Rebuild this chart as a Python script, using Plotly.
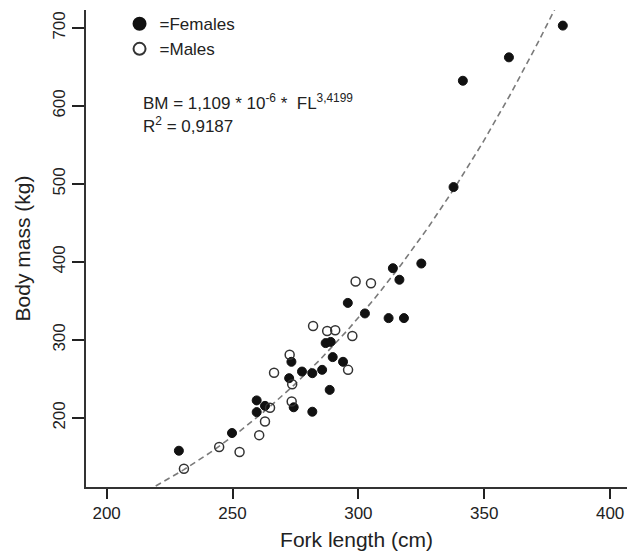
import numpy as np
import plotly.graph_objects as go

# Data
fem_fl = [228.7, 249.8, 259.6, 259.6, 262.9, 273.4, 277.6, 281.7, 285.6, 272.5,
          288.6, 274.3, 281.7, 289.8, 293.9, 287.0, 289.0, 295.8, 302.6, 312.0,
          318.1, 313.7, 316.3, 325.0, 337.8, 341.5, 359.8, 381.2]
fem_bm = [158, 180.7, 207.5, 222.5, 215.5, 272, 259.5, 257.4, 261.7, 251,
          236, 213.7, 208, 278, 272, 296, 297.5, 347.5, 334, 328,
          328, 392, 377.2, 398, 496, 632.3, 662.3, 703]
male_fl = [230.7, 244.7, 252.8, 260.6, 262.9, 264.9, 273.5, 273.7, 266.5, 272.7,
           282.0, 287.6, 290.8, 297.6, 295.9, 298.9, 305.0]
male_bm = [134.8, 162.7, 156.3, 178, 195.5, 213, 221, 243.3, 258, 281,
           318, 311.5, 312.5, 305, 261.7, 375, 372.6]

# Fitted power curve BM = a * FL^b (from the chart's equation)
fit_a = 1.109e-6
fit_b = 3.4199
fit_fl = np.linspace(219.5, 378.5, 200)
fit_bm = fit_a * fit_fl ** fit_b

x_ticks = [200, 250, 300, 350, 400]
y_ticks = [200, 300, 400, 500, 600, 700]

FONT = "Liberation Sans, Arial, Helvetica, sans-serif"
INK = "#222222"

fig = go.Figure()
fig.add_trace(go.Scatter(x=fit_fl, y=fit_bm, mode="lines", showlegend=False,
                         line=dict(color="#7a7a7a", width=1.6, dash="6px,4px"),
                         hoverinfo="skip"))
fig.add_trace(go.Scatter(x=fem_fl, y=fem_bm, mode="markers", name="=Females",
                         marker=dict(symbol="circle", size=9, color="#111111",
                                     line=dict(color="#111111", width=1))))
fig.add_trace(go.Scatter(x=male_fl, y=male_bm, mode="markers", name="=Males",
                         marker=dict(symbol="circle-open", size=9, color="#333333",
                                     line=dict(width=1.5))))

fig.update_layout(
    width=629, height=556,
    margin=dict(l=86, r=2, t=10, b=69),
    paper_bgcolor="white", plot_bgcolor="white",
    font=dict(family=FONT, size=17, color=INK),
    showlegend=True,
    legend=dict(x=0.062, y=1.008, xanchor="left", yanchor="top",
                bgcolor="rgba(0,0,0,0)", font=dict(size=17, color=INK),
                itemsizing="constant", itemwidth=30, tracegroupgap=0,
                traceorder="normal"),
    xaxis=dict(range=[191.8, 406.7], tickvals=x_ticks, showgrid=False, zeroline=False,
               showline=True, linecolor="#333333", linewidth=2, automargin=False,
               ticks="outside", ticklen=10, tickwidth=2, tickcolor="#222222",
               tickfont=dict(size=17, color=INK),
               title=dict(text="Fork length (cm)", font=dict(size=21, color=INK), standoff=10)),
    yaxis=dict(range=[111.5, 723], tickvals=y_ticks, showgrid=False, zeroline=False,
               showline=True, linecolor="#333333", linewidth=2, automargin=False,
               ticks="outside", ticklen=12, tickwidth=2, tickcolor="#222222",
               tickangle=-90, tickfont=dict(size=17, color=INK),
               title=dict(text="Body mass (kg)", font=dict(size=21, color=INK), standoff=14)),
)

fig.add_annotation(xref="paper", yref="paper", x=0.102, y=0.808, xanchor="left", yanchor="middle",
                   text="BM = 1,109 * 10<sup>-6</sup> *  FL<sup>3,4199</sup>",
                   showarrow=False, font=dict(size=17, color=INK), align="left")
fig.add_annotation(xref="paper", yref="paper", x=0.102, y=0.759, xanchor="left", yanchor="middle",
                   text="R<sup>2</sup> = 0,9187",
                   showarrow=False, font=dict(size=17, color=INK), align="left")

fig.write_html("out.html", config={"displayModeBar": False},
               post_script="document.body.style.margin='0';document.body.style.overflow='hidden';")
